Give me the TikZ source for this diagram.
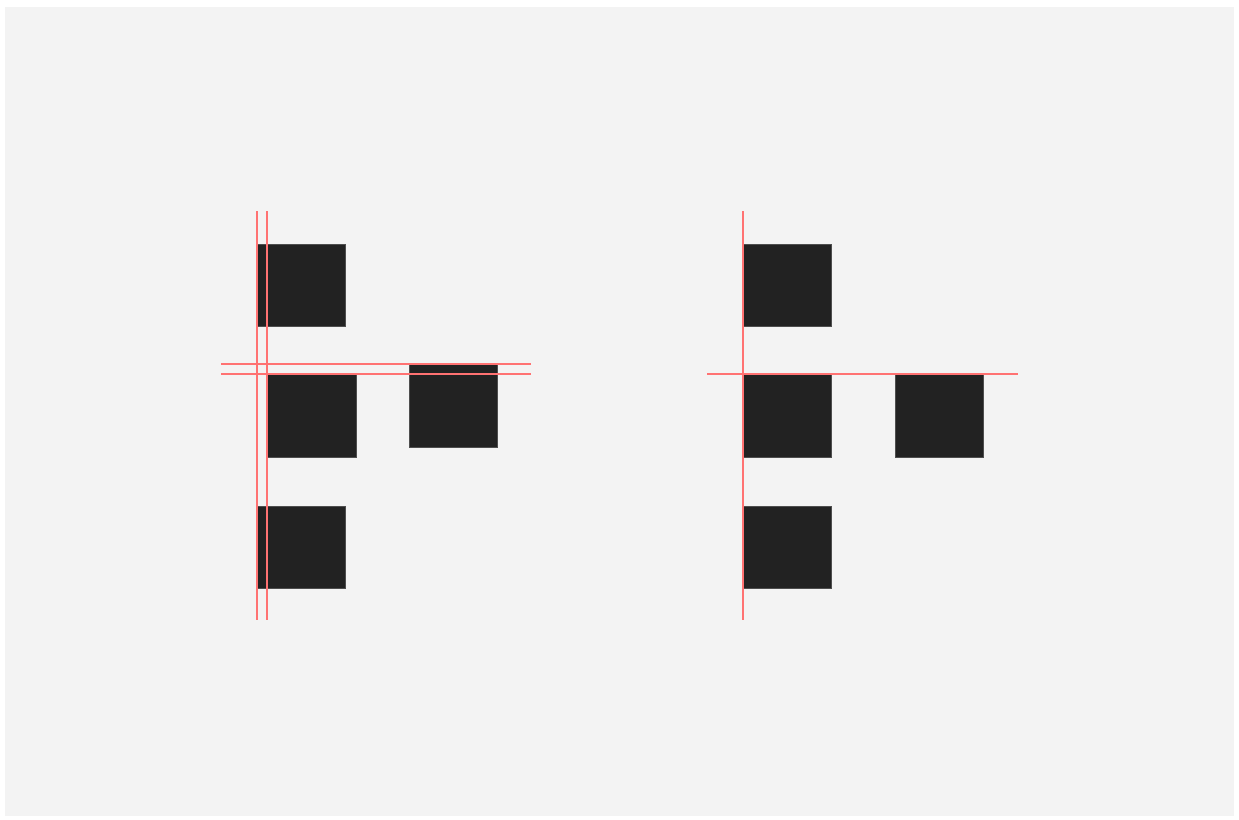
\documentclass[tikz,border=0pt]{standalone}
\definecolor{bg}{HTML}{F3F3F3}
\definecolor{boxc}{HTML}{222222}
\definecolor{guide}{HTML}{FF7272}
\tikzset{
  blk/.style={draw=boxc!80!white, line width=0.6pt, fill=boxc},
  guideline/.style={draw=guide, line width=1.3pt},
}
\begin{document}
\begin{tikzpicture}[x=1pt,y=-1pt]
\useasboundingbox (0,0) rectangle (1239,819);
\fill[bg] (5,7) rectangle (1234,816);
% left group
\path[blk] (257,244) rectangle (345,326) coordinate (a1);
\path[blk] (267,374) rectangle (356,457) coordinate (a2);
\path[blk] (409,364) rectangle (497,447) coordinate (a3);
\path[blk] (257,506) rectangle (345,588) coordinate (a4);
\coordinate (lv1t) at (257,211); \coordinate (lv1b) at (257,620);
\coordinate (lv2t) at (267,211); \coordinate (lv2b) at (267,620);
\coordinate (lh1l) at (221,364); \coordinate (lh1r) at (531,364);
\coordinate (lh2l) at (221,374); \coordinate (lh2r) at (531,374);
\draw[guideline] (lv1t) -- (lv1b);
\draw[guideline] (lv2t) -- (lv2b);
\draw[guideline] (lh1l) -- (lh1r);
\draw[guideline] (lh2l) -- (lh2r);
% right group
\path[blk] (743,244) rectangle (831,326) coordinate (b1);
\path[blk] (743,374) rectangle (831,457) coordinate (b2);
\path[blk] (895,374) rectangle (983,457) coordinate (b3);
\path[blk] (743,506) rectangle (831,588) coordinate (b4);
\coordinate (rvt) at (743,211); \coordinate (rvb) at (743,620);
\coordinate (rhl) at (707,374); \coordinate (rhr) at (1018,374);
\draw[guideline] (rvt) -- (rvb);
\draw[guideline] (rhl) -- (rhr);
\end{tikzpicture}
\end{document}
